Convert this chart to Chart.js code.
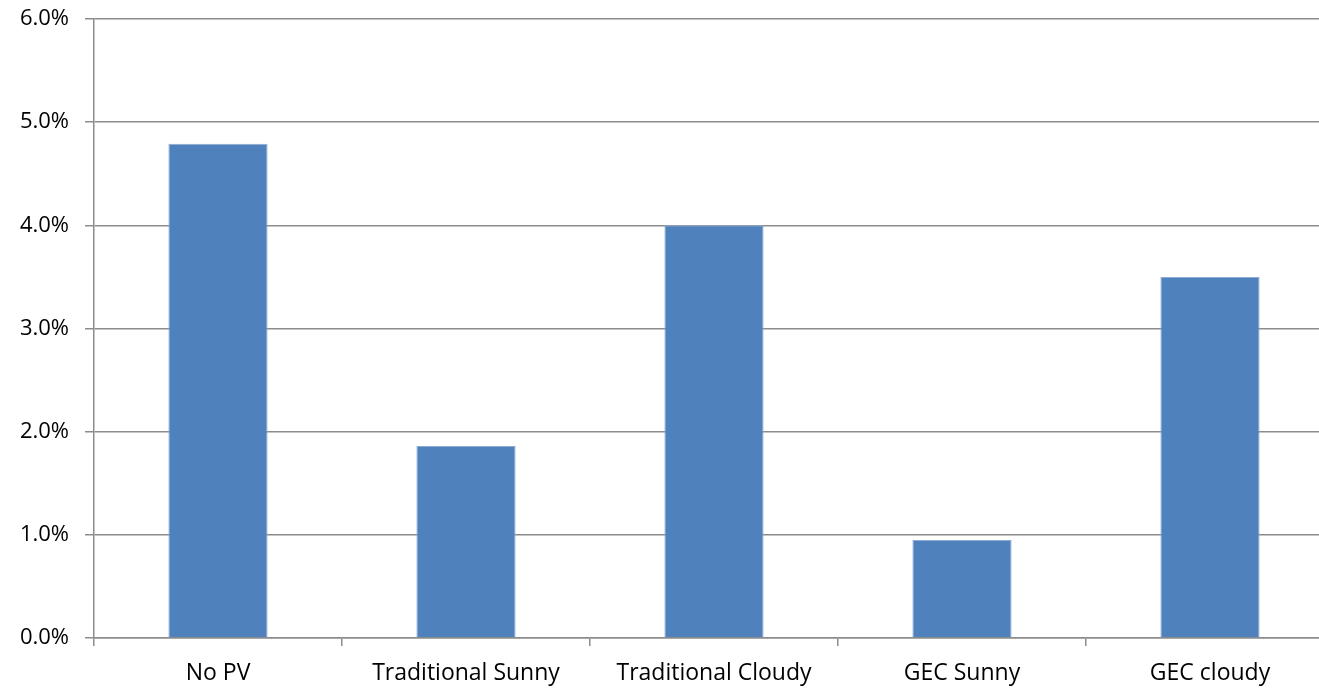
<!DOCTYPE html>
<html>
<head>
<meta charset="utf-8">
<script src="https://cdn.jsdelivr.net/npm/chart.js@4/dist/chart.umd.min.js"></script>
<style>
  html, body { margin: 0; padding: 0; background: #ffffff; overflow: hidden; }
  #wrap { width: 1340px; height: 689px; }
</style>
</head>
<body>
<div id="wrap"><canvas id="c" width="1340" height="689"></canvas></div>
<script>
// Share of energy (percent) per scenario
const categories = ["No PV", "Traditional Sunny", "Traditional Cloudy", "GEC Sunny", "GEC cloudy"];
const values = [4.79, 1.86, 4.00, 0.95, 3.50];
const yTicks = [0, 1, 2, 3, 4, 5, 6];

const FONT = "'Open Sans', 'Liberation Sans', sans-serif";
const GRID = "#8c8c8c";

new Chart(document.getElementById("c"), {
  type: "bar",
  data: {
    labels: categories,
    datasets: [{
      data: values,
      backgroundColor: "#4f81bd",
      borderColor: "#8eabd3",
      borderWidth: { top: 1, left: 1, right: 1, bottom: 0 },
      categoryPercentage: 1.0,
      barPercentage: 0.4
    }]
  },
  options: {
    responsive: false,
    animation: false,
    layout: { padding: { top: 19, right: 6, left: 0, bottom: 0 } },
    plugins: { legend: { display: false }, tooltip: { enabled: false } },
    scales: {
      x: {
        grid: { drawOnChartArea: false, drawTicks: true, tickLength: 8, color: GRID, lineWidth: 1.5 },
        border: { color: GRID, width: 1.5 },
        ticks: { color: "#000", font: { family: FONT, size: 23 }, padding: 14, maxRotation: 0 },
        afterFit: (s) => { s.height = 51; s.paddingLeft = 0; s.paddingRight = 0; }
      },
      y: {
        min: 0, max: 6,
        afterBuildTicks: (s) => { s.ticks = yTicks.map(v => ({ value: v })); },
        grid: { color: GRID, lineWidth: 1.5, tickLength: 9 },
        border: { color: GRID, width: 1.5 },
        ticks: {
          color: "#000", font: { family: FONT, size: 22 }, padding: 16,
          callback: (v) => v.toFixed(1) + "%"
        },
        afterFit: (s) => { s.width = 94; s.paddingTop = 0; s.paddingBottom = 0; }
      }
    }
  }
});
</script>
</body>
</html>
